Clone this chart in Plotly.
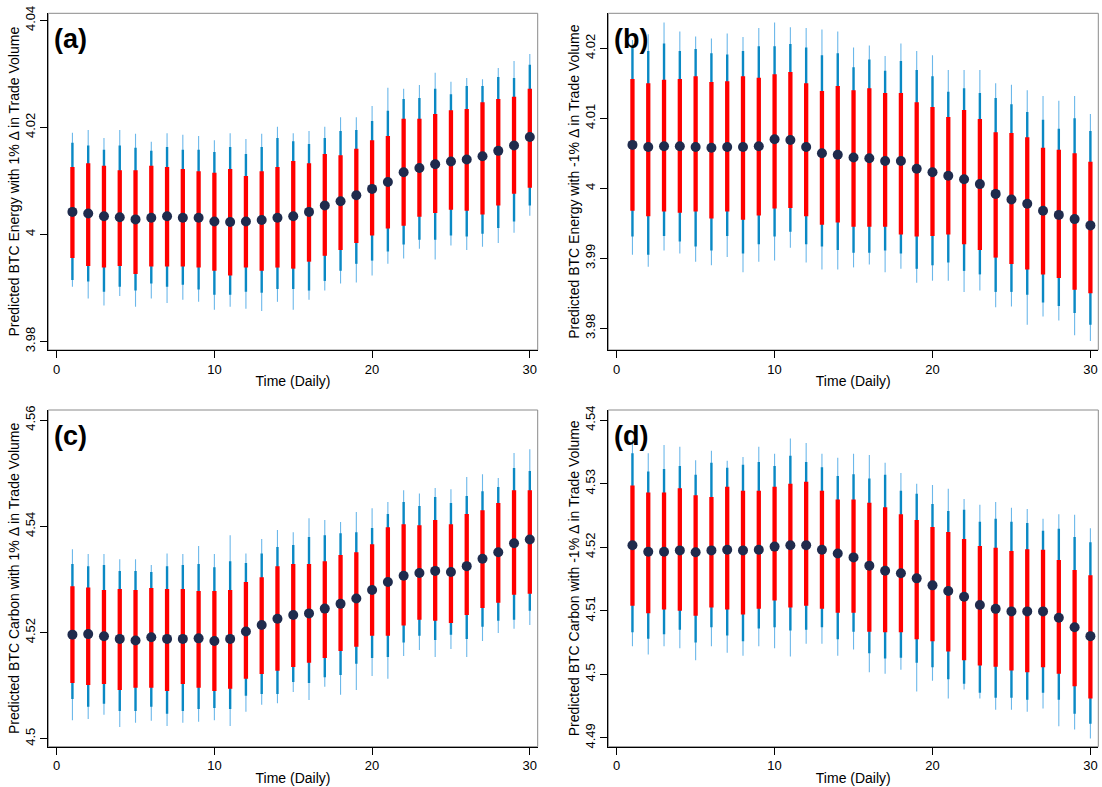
import plotly.graph_objects as go

days = list(range(1, 31))

# ---------------- Panel (a) ----------------
est_a = [4.0042,4.0039,4.0034,4.0032,4.0028,4.0031,4.0034,4.0031,4.0031,4.0024,4.0023,4.0024,4.0027,4.0031,4.0034,4.0042,4.0054,4.0062,4.0073,4.0085,4.0098,4.0116,4.0124,4.0131,4.0136,4.0140,4.0146,4.0156,4.0166,4.0182]
red_hi_a = [4.0126,4.0133,4.0128,4.0120,4.0120,4.0128,4.0126,4.0122,4.0118,4.0115,4.0122,4.0109,4.0118,4.0126,4.0137,4.0133,4.0150,4.0148,4.0160,4.0176,4.0184,4.0216,4.0216,4.0225,4.0232,4.0234,4.0247,4.0253,4.0257,4.0272]
red_lo_a = [3.9956,3.9941,3.9938,3.9941,3.9926,3.9940,3.9940,3.9940,3.9938,3.9932,3.9923,3.9938,3.9932,3.9938,3.9936,3.9949,3.9960,3.9971,3.9984,3.9998,4.0011,4.0016,4.0033,4.0040,4.0046,4.0044,4.0037,4.0054,4.0076,4.0087]
blue_hi_a = [4.0171,4.0166,4.0158,4.0166,4.0162,4.0156,4.0163,4.0158,4.0158,4.0154,4.0163,4.0150,4.0163,4.0180,4.0174,4.0169,4.0180,4.0193,4.0195,4.0212,4.0231,4.0253,4.0255,4.0272,4.0262,4.0277,4.0277,4.0294,4.0292,4.0317]
blue_lo_a = [3.9915,3.9912,3.9893,3.9902,3.9895,3.9908,3.9902,3.9906,3.9897,3.9887,3.9887,3.9893,3.9891,3.9898,3.9898,3.9895,3.9913,3.9932,3.9945,3.9951,3.9968,3.9981,3.9990,3.9990,3.9998,3.9996,4.0001,4.0012,4.0024,4.0054]
thin_hi_a = [4.0190,4.0195,4.0180,4.0195,4.0188,4.0173,4.0189,4.0186,4.0184,4.0176,4.0189,4.0178,4.0188,4.0201,4.0189,4.0193,4.0201,4.0219,4.0219,4.0240,4.0274,4.0272,4.0279,4.0302,4.0285,4.0292,4.0290,4.0311,4.0324,4.0337]
thin_lo_a = [3.9902,3.9880,3.9867,3.9885,3.9865,3.9880,3.9872,3.9878,3.9874,3.9859,3.9865,3.9861,3.9857,3.9874,3.9859,3.9878,3.9895,3.9908,3.9910,3.9923,3.9945,3.9955,3.9973,3.9953,3.9979,3.9971,3.9977,3.9984,4.0003,4.0035]

# ---------------- Panel (b) ----------------
est_b = [4.0062,4.0059,4.0060,4.0060,4.0059,4.0058,4.0059,4.0059,4.0060,4.0070,4.0069,4.0059,4.0050,4.0048,4.0044,4.0043,4.0039,4.0039,4.0028,4.0023,4.0018,4.0013,4.0006,3.9992,3.9984,3.9978,3.9968,3.9962,3.9956,3.9947]
red_hi_b = [4.0156,4.0150,4.0155,4.0156,4.0160,4.0152,4.0153,4.0160,4.0158,4.0163,4.0166,4.0150,4.0139,4.0146,4.0140,4.0143,4.0136,4.0136,4.0123,4.0116,4.0102,4.0112,4.0099,4.0080,4.0079,4.0073,4.0058,4.0055,4.0050,4.0038]
red_lo_b = [3.9968,3.9960,3.9967,3.9965,3.9967,3.9957,3.9967,3.9955,3.9961,3.9971,3.9972,3.9960,3.9948,3.9951,3.9945,3.9945,3.9945,3.9934,3.9931,3.9932,3.9934,3.9920,3.9912,3.9901,3.9892,3.9884,3.9877,3.9872,3.9855,3.9850]
blue_hi_b = [4.0201,4.0196,4.0207,4.0196,4.0199,4.0193,4.0191,4.0196,4.0203,4.0203,4.0206,4.0201,4.0190,4.0193,4.0173,4.0184,4.0168,4.0182,4.0169,4.0160,4.0138,4.0143,4.0136,4.0129,4.0120,4.0109,4.0098,4.0085,4.0100,4.0082]
blue_lo_b = [3.9931,3.9905,3.9932,3.9924,3.9917,3.9911,3.9932,3.9907,3.9920,3.9931,3.9938,3.9920,3.9917,3.9912,3.9908,3.9908,3.9911,3.9907,3.9885,3.9890,3.9894,3.9882,3.9877,3.9852,3.9852,3.9848,3.9837,3.9832,3.9822,3.9805]
thin_hi_b = [4.0212,4.0220,4.0237,4.0224,4.0217,4.0214,4.0221,4.0216,4.0229,4.0237,4.0230,4.0229,4.0227,4.0224,4.0201,4.0204,4.0189,4.0207,4.0196,4.0190,4.0169,4.0169,4.0169,4.0150,4.0148,4.0140,4.0132,4.0125,4.0132,4.0106]
thin_lo_b = [3.9905,3.9888,3.9911,3.9907,3.9895,3.9890,3.9902,3.9880,3.9895,3.9897,3.9915,3.9894,3.9884,3.9884,3.9887,3.9891,3.9880,3.9885,3.9865,3.9868,3.9868,3.9852,3.9854,3.9830,3.9831,3.9805,3.9817,3.9811,3.9790,3.9782]

# ---------------- Panel (c) ----------------
est_c = [4.5196,4.5197,4.5193,4.5188,4.5185,4.5191,4.5188,4.5188,4.5189,4.5184,4.5188,4.5202,4.5214,4.5226,4.5233,4.5236,4.5245,4.5254,4.5264,4.5280,4.5295,4.5307,4.5312,4.5316,4.5314,4.5325,4.5339,4.5351,4.5368,4.5375]
red_hi_c = [4.5287,4.5285,4.5280,4.5282,4.5280,4.5284,4.5282,4.5282,4.5278,4.5278,4.5280,4.5295,4.5304,4.5325,4.5329,4.5329,4.5334,4.5346,4.5351,4.5366,4.5398,4.5404,4.5402,4.5412,4.5404,4.5423,4.5430,4.5444,4.5468,4.5468]
red_lo_c = [4.5105,4.5101,4.5103,4.5092,4.5096,4.5096,4.5090,4.5103,4.5096,4.5090,4.5094,4.5113,4.5122,4.5128,4.5135,4.5143,4.5152,4.5165,4.5173,4.5194,4.5194,4.5213,4.5224,4.5222,4.5218,4.5233,4.5246,4.5256,4.5271,4.5273]
blue_hi_c = [4.5329,4.5325,4.5327,4.5316,4.5316,4.5314,4.5325,4.5327,4.5329,4.5323,4.5334,4.5331,4.5349,4.5361,4.5365,4.5380,4.5383,4.5387,4.5389,4.5397,4.5423,4.5446,4.5438,4.5455,4.5444,4.5457,4.5466,4.5474,4.5510,4.5504]
blue_lo_c = [4.5075,4.5060,4.5066,4.5052,4.5052,4.5060,4.5047,4.5052,4.5056,4.5058,4.5056,4.5081,4.5084,4.5084,4.5107,4.5105,4.5116,4.5120,4.5141,4.5152,4.5154,4.5181,4.5194,4.5186,4.5196,4.5188,4.5211,4.5222,4.5224,4.5241]
thin_hi_c = [4.5357,4.5348,4.5348,4.5338,4.5338,4.5327,4.5349,4.5348,4.5363,4.5348,4.5383,4.5349,4.5376,4.5393,4.5389,4.5415,4.5412,4.5408,4.5427,4.5434,4.5446,4.5468,4.5462,4.5472,4.5470,4.5493,4.5498,4.5491,4.5538,4.5545]
thin_lo_c = [4.5035,4.5037,4.5045,4.5022,4.5030,4.5034,4.5024,4.5030,4.5032,4.5035,4.5024,4.5051,4.5064,4.5067,4.5088,4.5073,4.5098,4.5083,4.5092,4.5118,4.5113,4.5156,4.5167,4.5154,4.5169,4.5154,4.5184,4.5199,4.5207,4.5214]

# ---------------- Panel (d) ----------------
est_d = [4.5203,4.5193,4.5193,4.5195,4.5192,4.5195,4.5196,4.5195,4.5196,4.5201,4.5203,4.5203,4.5196,4.5190,4.5184,4.5171,4.5163,4.5159,4.5151,4.5140,4.5131,4.5122,4.5109,4.5103,4.5099,4.5099,4.5099,4.5089,4.5074,4.5060]
red_hi_d = [4.5297,4.5286,4.5286,4.5293,4.5282,4.5279,4.5295,4.5289,4.5289,4.5295,4.5300,4.5303,4.5289,4.5275,4.5275,4.5270,4.5263,4.5252,4.5243,4.5232,4.5224,4.5213,4.5202,4.5199,4.5194,4.5197,4.5196,4.5180,4.5164,4.5156]
red_lo_d = [4.5108,4.5096,4.5102,4.5100,4.5092,4.5105,4.5102,4.5094,4.5103,4.5116,4.5105,4.5108,4.5103,4.5097,4.5097,4.5067,4.5066,4.5066,4.5055,4.5052,4.5036,4.5022,4.5014,4.5012,4.5006,4.5003,4.5011,4.5001,4.4981,4.4962]
blue_hi_d = [4.5348,4.5319,4.5323,4.5328,4.5314,4.5333,4.5325,4.5330,4.5334,4.5328,4.5344,4.5334,4.5326,4.5312,4.5315,4.5308,4.5314,4.5289,4.5284,4.5268,4.5257,4.5259,4.5240,4.5245,4.5240,4.5238,4.5226,4.5229,4.5216,4.5208]
blue_lo_d = [4.5066,4.5056,4.5063,4.5070,4.5050,4.5074,4.5061,4.5052,4.5072,4.5074,4.5069,4.5070,4.5074,4.5055,4.5067,4.5033,4.5025,4.5026,4.5018,4.5011,4.4992,4.4985,4.4971,4.4963,4.4963,4.4960,4.4971,4.4960,4.4938,4.4922]
thin_hi_d = [4.5369,4.5348,4.5361,4.5358,4.5337,4.5352,4.5336,4.5342,4.5358,4.5347,4.5371,4.5364,4.5347,4.5341,4.5347,4.5345,4.5333,4.5317,4.5300,4.5298,4.5292,4.5276,4.5267,4.5271,4.5262,4.5260,4.5245,4.5252,4.5251,4.5230]
thin_lo_d = [4.5044,4.5031,4.5044,4.5041,4.5022,4.5044,4.5034,4.5029,4.5044,4.5041,4.5028,4.5048,4.5048,4.5029,4.5039,4.5003,4.5001,4.5007,4.4973,4.4990,4.4962,4.4976,4.4962,4.4944,4.4944,4.4941,4.4946,4.4918,4.4913,4.4899]

panel_labels = ["(a)", "(b)", "(c)", "(d)"]
y_titles = [
    "Predicted BTC Energy with 1% \u0394 in Trade Volume",
    "Predicted BTC Energy with -1% \u0394 in Trade Volume",
    "Predicted BTC Carbon with 1% \u0394 in Trade Volume",
    "Predicted BTC Carbon with -1% \u0394 in Trade Volume",
]
x_title = "Time (Daily)"
x_ticks = [0, 10, 20, 30]
y_ticks = [
    [3.98, 4, 4.02, 4.04],
    [3.98, 3.99, 4, 4.01, 4.02],
    [4.5, 4.52, 4.54, 4.56],
    [4.49, 4.5, 4.51, 4.52, 4.53, 4.54],
]
y_ticktext = [
    ["3.98", "4", "4.02", "4.04"],
    ["3.98", "3.99", "4", "4.01", "4.02"],
    ["4.5", "4.52", "4.54", "4.56"],
    ["4.49", "4.5", "4.51", "4.52", "4.53", "4.54"],
]
y_ranges = [[3.9784, 4.0413], [3.9769, 4.0250], [4.4985, 4.5619], [4.4886, 4.5416]]
x_range = [-0.53, 30.5]

panels = [
    (est_a, red_lo_a, red_hi_a, blue_lo_a, blue_hi_a, thin_lo_a, thin_hi_a),
    (est_b, red_lo_b, red_hi_b, blue_lo_b, blue_hi_b, thin_lo_b, thin_hi_b),
    (est_c, red_lo_c, red_hi_c, blue_lo_c, blue_hi_c, thin_lo_c, thin_hi_c),
    (est_d, red_lo_d, red_hi_d, blue_lo_d, blue_hi_d, thin_lo_d, thin_hi_d),
]

W, H = 1102, 787
x_doms = [[48.3 / W, 537.7 / W], [608.3 / W, 1098.3 / W]]
y_doms = [[1 - 350 / H, 1 - 13.3 / H], [1 - 746.7 / H, 1 - 410 / H]]

FONT = "Liberation Sans, Arial, sans-serif"
C_THIN = "#6cb8ea"
C_BLUE = "#0a89c4"
C_RED = "#ff0000"
C_DOT = "#1f2b4d"


def segs(lo, hi):
    xs, ys = [], []
    for t, l, h in zip(days, lo, hi):
        xs += [t, t, None]
        ys += [l, h, None]
    return xs, ys


fig = go.Figure()
layout = {}
for i, (est, rlo, rhi, blo, bhi, tlo, thi) in enumerate(panels):
    n = i + 1
    xa = "x" if n == 1 else f"x{n}"
    ya = "y" if n == 1 else f"y{n}"
    for lo, hi, col, w in [(tlo, thi, C_THIN, 1.1), (blo, bhi, C_BLUE, 2.4), (rlo, rhi, C_RED, 4.3)]:
        xs, ys = segs(lo, hi)
        fig.add_trace(go.Scatter(x=xs, y=ys, mode="lines", line=dict(color=col, width=w),
                                 xaxis=xa, yaxis=ya, showlegend=False, hoverinfo="skip"))
    fig.add_trace(go.Scatter(x=days, y=est, mode="markers",
                             marker=dict(color=C_DOT, size=10, line=dict(width=0)),
                             xaxis=xa, yaxis=ya, showlegend=False))
    row, col = divmod(i, 2)
    xkey = "xaxis" if n == 1 else f"xaxis{n}"
    ykey = "yaxis" if n == 1 else f"yaxis{n}"
    layout[xkey] = dict(
        domain=x_doms[col], anchor=ya, range=x_range, tickvals=x_ticks,
        ticks="outside", ticklen=7, tickcolor="black", showgrid=False, zeroline=False,
        showline=True, linecolor="black", linewidth=1,
        tickfont=dict(family=FONT, size=13, color="black"),
        title=dict(text=x_title, font=dict(family=FONT, size=14, color="black"), standoff=0),
        automargin=False,
    )
    layout[ykey] = dict(
        domain=y_doms[row], anchor=xa, range=y_ranges[i], tickvals=y_ticks[i], ticktext=y_ticktext[i],
        ticks="outside", ticklen=7, tickcolor="black", showgrid=False, zeroline=False,
        showline=True, linecolor="black", linewidth=1, tickangle=-90,
        tickfont=dict(family=FONT, size=13, color="black"),
        title=dict(text=y_titles[i], font=dict(family=FONT, size=14, color="black"), standoff=0),
        automargin=False,
    )

shapes = []
annotations = []
for i in range(4):
    n = i + 1
    xr = "x" if n == 1 else f"x{n}"
    yr = "y" if n == 1 else f"y{n}"
    shapes.append(dict(type="rect", xref=f"{xr} domain", yref=f"{yr} domain",
                       x0=0, x1=1, y0=0, y1=1, line=dict(color="#8a8a8a", width=1), layer="below"))
    annotations.append(dict(text=f"<b>{panel_labels[i]}</b>", xref=f"{xr} domain", yref=f"{yr} domain",
                            x=0.008, y=1 - 26 / 336.7, xanchor="left", yanchor="middle", showarrow=False,
                            font=dict(family=FONT, size=27, color="black")))

fig.update_layout(
    width=W, height=H,
    margin=dict(l=0, r=0, t=0, b=0),
    paper_bgcolor="white", plot_bgcolor="white",
    shapes=shapes, annotations=annotations,
    **layout,
)

fig.write_html(
    "out.html",
    config={"displayModeBar": False},
    post_script="document.body.style.margin='0px';document.body.style.padding='0px';document.body.style.overflow='hidden';",
)
